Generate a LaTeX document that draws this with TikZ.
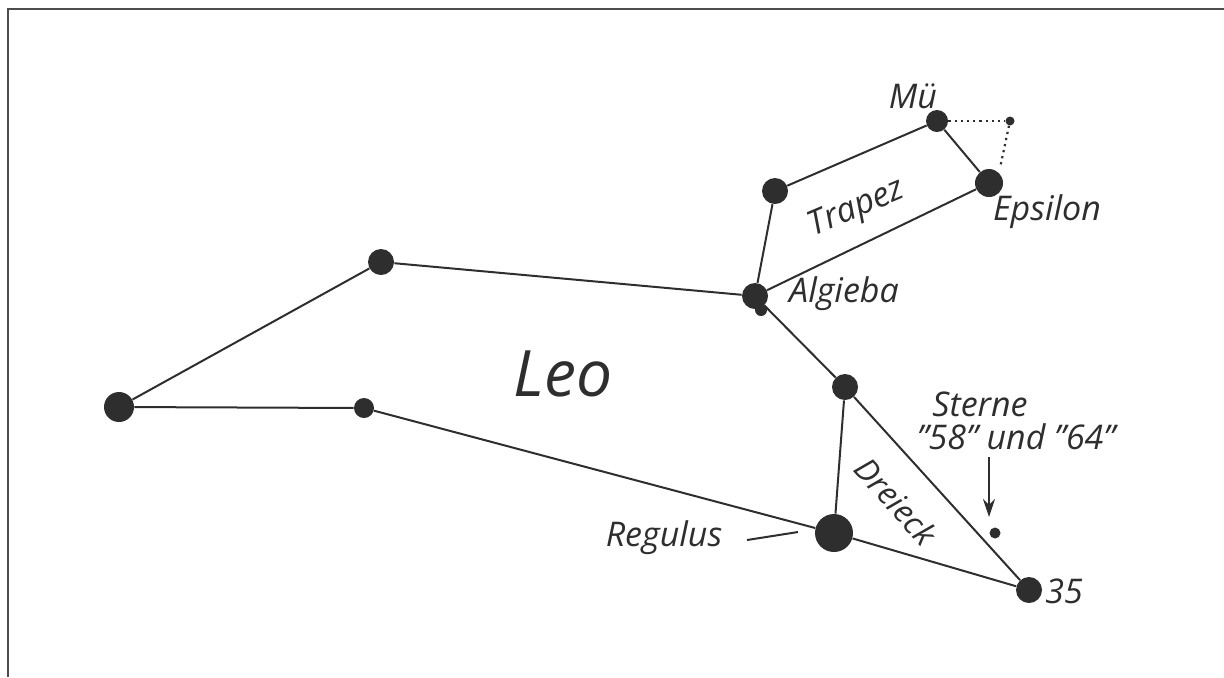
\documentclass[tikz,border=0pt]{standalone}
\usepackage{fontspec}
\setmainfont{Open Sans}
\usetikzlibrary{arrows.meta}
\definecolor{ink}{HTML}{2E2E2E}
\tikzset{
  star/.style={circle,fill=ink,inner sep=0pt,minimum size=#1},
  conn/.style={draw=ink,line width=1pt},
  dotconn/.style={draw=ink,line width=1.1pt,dotted},
  lbl/.style={font=\itshape\fontsize{17}{20}\selectfont,text=ink,inner sep=1pt},
  frame/.style={draw=ink!85,line width=1.3pt}
}
\begin{document}
\begin{tikzpicture}[x=0.5pt,y=-0.5pt]
\useasboundingbox (0,0) rectangle (1224,677);
% frame
\coordinate (f1) at (8,677);
\coordinate (f2) at (8,9);
\coordinate (f3) at (1224,9);
\draw[frame] (f1) -- (f2) -- (f3);
% stars (sizes in pt = pixel diameter / 2)
\node[star=15pt] (tail) at (119,407) {};
\node[star=13pt] (back) at (381,262) {};
\node[star=10pt] (hind) at (364,408) {};
\node[star=13pt] (algieba) at (755,296) {};
\node[star=6pt] (algb) at (761,310) {};
\node[star=13pt] (head) at (775,191) {};
\node[star=11pt] (mu) at (937,121) {};
\node[star=4.5pt] (mdot) at (1010,121) {};
\node[star=14pt] (eps) at (989,183) {};
\node[star=13pt] (tri) at (845,387) {};
\node[star=19pt] (reg) at (834,533) {};
\node[star=13pt] (s35) at (1029,590) {};
\node[star=5.5pt] (s58) at (995,533) {};
% connectors
\draw[conn] (tail) -- (back);
\draw[conn] (tail) -- (hind);
\draw[conn] (back) -- (algieba);
\draw[conn] (hind) -- (reg);
\draw[conn] (algieba) -- (head);
\draw[conn] (head) -- (mu);
\draw[conn] (mu) -- (eps);
\draw[conn] (eps) -- (algieba);
\draw[conn] (algieba) -- (tri);
\draw[conn] (tri) -- (reg);
\draw[conn] (tri) -- (s35);
\draw[conn] (reg) -- (s35);
% dotted
\coordinate (dend) at (1000,168);
\draw[dotconn] (mu) -- (mdot);
\draw[dotconn] (mdot) -- (dend);
% labels
\node[lbl] (lmu) at (913,96) {Mü};
\node[lbl,rotate=23] (ltrapez) at (857,209) {Trapez};
\node[lbl] (leps) at (1047,212) {Epsilon};
\node[lbl] (lalg) at (844,294) {Algieba};
\node[text=ink,font=\itshape\fontsize{32}{36}\selectfont] (lleo) at (563,374) {Leo};
\node[lbl] (lsterne) at (980,404) {Sterne};
\node[lbl] (lnums) at (1016,437) {"58" und "64"};
\node[lbl,font=\itshape\fontsize{16}{19}\selectfont,rotate=-48] (ldrei) at (896,501) {Dreieck};
\node[lbl] (lreg) at (664,538) {Regulus};
\node[lbl] (l35) at (1064,591) {35};
% Regulus pointer
\coordinate (rp1) at (747,540);
\coordinate (rp2) at (798,532);
\draw[conn] (rp1) -- (rp2);
% arrow to stars 58/64
\coordinate (ar1) at (989,457);
\coordinate (ar2) at (989,517);
\draw[conn,-{Stealth[length=9pt,width=6pt]}] (ar1) -- (ar2);
\end{tikzpicture}
\end{document}
